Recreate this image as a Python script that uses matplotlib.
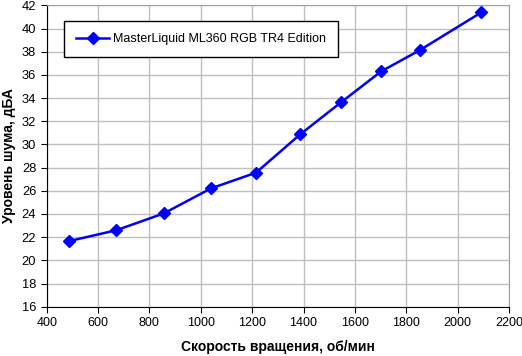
import matplotlib
matplotlib.use("Agg")
import matplotlib.pyplot as plt

# fan speed (rpm) and noise level (dBA)
rpm = [487, 670, 856, 1040, 1215, 1387, 1546, 1703, 1852, 2093]
noise = [21.66, 22.59, 24.05, 26.21, 27.56, 30.87, 33.63, 36.31, 38.12, 41.4]
series_name = "MasterLiquid ML360 RGB TR4 Edition"

plt.rcParams["font.family"] = ["Liberation Sans", "DejaVu Sans"]

fig = plt.figure(figsize=(5.22, 3.56), dpi=100)
ax = fig.add_axes([0.0895, 0.1385, 0.8855, 0.8465])

ax.plot(rpm, noise, color="#0000ff", lw=1.8, marker="D", ms=6.5,
        label=series_name)

ax.set_xlim(400, 2200)
ax.set_ylim(16, 42)
ax.set_xticks(range(400, 2201, 200))
ax.set_yticks(range(16, 43, 2))
ax.grid(True, color="#c0c0c0", lw=1)
ax.set_axisbelow(True)
for s in ["top", "right"]:
    ax.spines[s].set_color("#a0a0a0")
for s in ["left", "bottom"]:
    ax.spines[s].set_color("black")
ax.tick_params(direction="out", length=4, labelsize=9.3, colors="black")
ax.tick_params(axis="x", labelsize=9)

ax.set_xlabel("Скорость вращения, об/мин", fontsize=10, fontweight="bold", labelpad=8)
ax.set_ylabel("Уровень шума, дБА", fontsize=10, fontweight="bold", labelpad=4)

leg = ax.legend(loc="upper left", bbox_to_anchor=(0.037, 0.948), fontsize=9,
                fancybox=False, edgecolor="black", framealpha=1,
                borderaxespad=0, handlelength=2.7, borderpad=0.95,
                handletextpad=0.3)
leg.get_frame().set_linewidth(1)

fig.savefig("out.png", dpi=100)
